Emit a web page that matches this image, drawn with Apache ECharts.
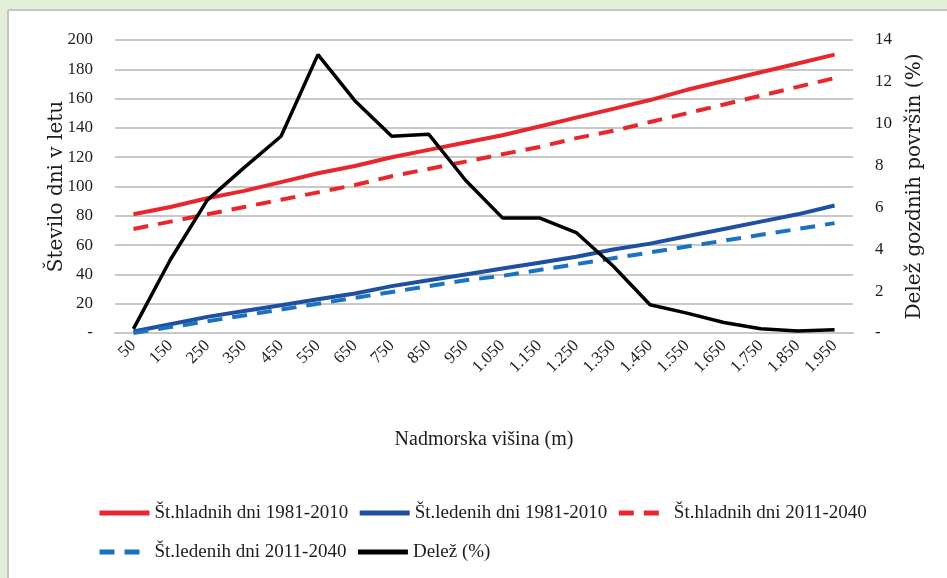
<!DOCTYPE html>
<html>
<head>
<meta charset="utf-8">
<script src="https://cdn.jsdelivr.net/npm/echarts@6/dist/echarts.min.js"></script>
<style>
    html, body {
        margin: 0;
        padding: 0;
        width: 947px;
        height: 578px;
        overflow: hidden;
        background: #e2efd9;
    }
    .panel {
        position: absolute;
        left: 7px;
        top: 9px;
        width: 980px;
        height: 600px;
        background: #fff;
        border: 2px solid #c4c4c4;
        border-radius: 3px;
    }
    #chart {
        position: absolute;
        left: 0;
        top: 0;
        width: 947px;
        height: 578px;
    }
</style>
</head>
<body>
<div class="panel"></div>
<div id="chart"></div>
<script>
// nadmorska visina (m)
const categories = ["50", "150", "250", "350", "450", "550", "650", "750", "850", "950",
    "1.050", "1.150", "1.250", "1.350", "1.450", "1.550", "1.650", "1.750", "1.850", "1.950"];
const hladni8110 = [81, 86, 92, 97, 103, 109, 114, 120, 125, 130, 135, 141, 147, 153, 159, 166, 172, 178, 184, 190];
const ledeni8110 = [1, 6, 11, 15, 19, 23, 27, 32, 36, 40, 44, 48, 52, 57, 61, 66, 71, 76, 81, 87];
const hladni1140 = [71, 76, 81, 86, 91, 96, 101, 107, 112, 117, 122, 127, 133, 138, 144, 150, 156, 162, 168, 174];
const ledeni1140 = [0, 4, 8, 12, 16, 20, 24, 28, 32, 36, 39, 43, 47, 51, 55, 59, 63, 67, 71, 75];
const delez = [0.2, 3.5, 6.35, 7.9, 9.4, 13.3, 11.1, 9.4, 9.5, 7.3, 5.5, 5.5, 4.8, 3.2, 1.35, 0.95, 0.5, 0.2, 0.1, 0.15];
const names = ["Št.hladnih dni 1981-2010", "Št.ledenih dni 1981-2010", "Št.hladnih dni 2011-2040",
    "Št.ledenih dni 2011-2040", "Delež (%)"];

const font = "'Liberation Serif', 'DejaVu Serif', serif";
const nameFont = "'DejaVu Serif', 'Liberation Serif', serif";
const txt = "#1c1c1c";

const zeroDash = v => (v === 0 ? "-" : v);

const line = (name, data, color, dashed, yIndex) => ({
    name,
    type: "line",
    data,
    yAxisIndex: yIndex || 0,
    symbol: "none",
    smooth: false,
    color,
    lineStyle: {
        color,
        width: yIndex ? 3.5 : 4,
        type: dashed ? [15, 10] : "solid",
    },
    z: yIndex ? 5 : 3,
});

const chart = echarts.init(document.getElementById("chart"));
const option = {
    animation: false,
    textStyle: { fontFamily: font },
    grid: {
        left: 115,
        right: 94,
        top: 40,
        bottom: 245,
    },
    legend: {
        left: 92,
        top: 493,
        width: 790,
        itemWidth: 50,
        itemHeight: 14,
        itemGap: 9,
        itemStyle: { opacity: 0 },
        lineStyle: { width: 5 },
        textStyle: { fontFamily: font, fontSize: 19, lineHeight: 30, color: txt },
        data: names,
    },
    xAxis: {
        type: "category",
        data: categories,
        name: "Nadmorska višina (m)",
        nameLocation: "middle",
        nameGap: 97,
        nameTextStyle: { fontSize: 20, color: txt, fontFamily: font },
        axisLine: { lineStyle: { color: "#c8c8c8", width: 2 } },
        axisTick: { show: false },
        axisLabel: {
            rotate: 45,
            interval: 0,
            margin: 10,
            fontSize: 17,
            color: txt,
        },
    },
    yAxis: [
        {
            type: "value",
            min: 0,
            max: 200,
            interval: 20,
            name: "Število dni v letu",
            nameLocation: "middle",
            nameGap: 48,
            nameRotate: 90,
            nameMoveOverlap: false,
            nameTextStyle: { fontSize: 20, color: txt, fontFamily: nameFont },
            axisLine: { show: false },
            axisTick: { show: false },
            axisLabel: { formatter: zeroDash, fontSize: 17, color: txt, margin: 22 },
            splitLine: { lineStyle: { color: "#c8c8c8", width: 2 } },
        },
        {
            type: "value",
            min: 0,
            max: 14,
            interval: 2,
            name: "Delež gozdnih površin (%)",
            nameLocation: "middle",
            nameGap: 52,
            nameRotate: 90,
            nameMoveOverlap: false,
            nameTextStyle: { fontSize: 20, color: txt, fontFamily: nameFont },
            axisLine: { show: false },
            axisTick: { show: false },
            axisLabel: { formatter: zeroDash, fontSize: 17, color: txt, margin: 22 },
            splitLine: { show: false },
        },
    ],
    series: [
        line(names[0], hladni8110, "#e8262d", false),
        line(names[1], ledeni8110, "#1f4fa0", false),
        line(names[2], hladni1140, "#e8262d", true),
        line(names[3], ledeni1140, "#1b72bf", true),
        line(names[4], delez, "#000000", false, 1),
    ],
};
chart.setOption(option);
</script>
</body>
</html>
